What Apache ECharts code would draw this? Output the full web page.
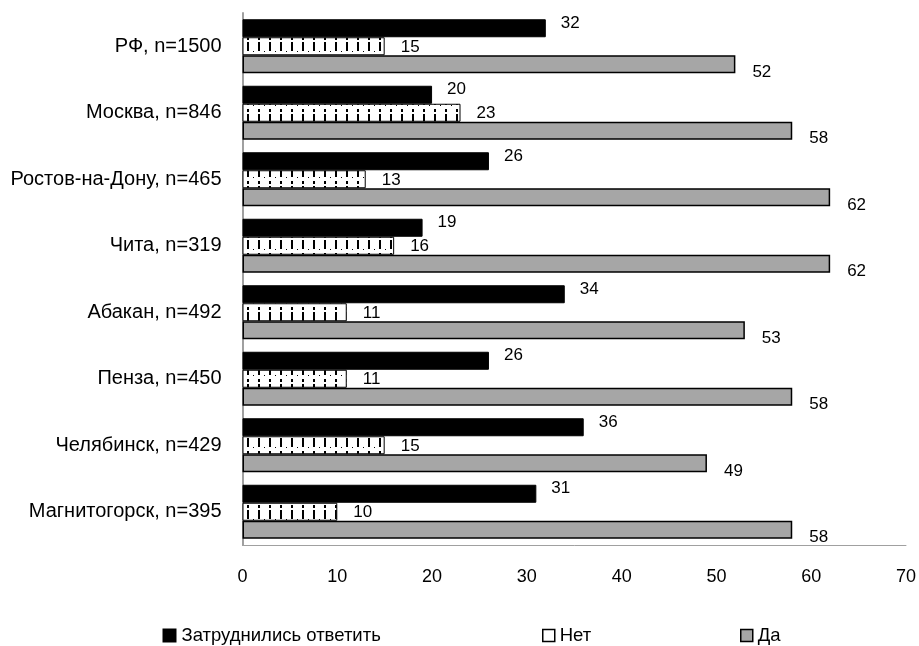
<!DOCTYPE html>
<html>
<head>
<meta charset="utf-8">
<script src="https://cdn.jsdelivr.net/npm/echarts@6/dist/echarts.min.js"></script>
<style>
html,body{margin:0;padding:0;background:#fff;}
#chart{width:919px;height:646px;}
</style>
</head>
<body>
<div id="chart"></div>
<script>
const categories = ['РФ, n=1500','Москва, n=846','Ростов-на-Дону, n=465','Чита, n=319','Абакан, n=492','Пенза, n=450','Челябинск, n=429','Магнитогорск, n=395'];
const seriesNames = ['Затруднились ответить','Нет','Да'];
const hardToSay = [32,20,26,19,34,26,36,31];
const noValues = [15,23,13,16,11,11,15,10];
const yesValues = [52,58,62,62,53,58,49,58];
const xTicks = [0,10,20,30,40,50,60,70];

const FONT = "'Liberation Sans', Arial, sans-serif";

// pattern for "Нет"
const pc = document.createElement('canvas');
pc.width = 11; pc.height = 18;
const px = pc.getContext('2d');
px.fillStyle = '#fff'; px.fillRect(0,0,11,18);
px.fillStyle = '#000';
px.fillRect(5,1,2,3);
px.fillRect(5,6,2,9);
px.fillRect(0,15,1,1);

const chart = echarts.init(document.getElementById('chart'), null, {renderer:'canvas'});
const labelBase = {show:true, position:'right', color:'#000', fontFamily:FONT, fontSize:17};
const legendText = {fontSize:18.5, fontFamily:FONT, color:'#000'};
const option = {
  animation:false,
  textStyle:{fontFamily:FONT},
  grid:{left:242.5, right:11.5, top:13, bottom:101, containLabel:false},
  xAxis:{type:'value', min:0, max:70, interval:10,
    axisLine:{show:true, lineStyle:{color:'#a0a0a0', width:1}},
    axisTick:{show:false}, splitLine:{show:false},
    axisLabel:{color:'#000', fontSize:18, fontFamily:FONT, margin:23,
      formatter:v=>xTicks.includes(v)?String(v):''}},
  yAxis:{type:'category', data:categories, inverse:true,
    axisLine:{show:true, lineStyle:{color:'#a0a0a0', width:2}},
    axisTick:{show:false},
    axisLabel:{color:'#000', fontSize:20, fontFamily:FONT, margin:21}},
  legend:[
    {data:[{name:seriesNames[0], itemStyle:{color:'#000', borderWidth:0}}], left:162.5, top:626, padding:0, icon:'rect', itemWidth:14, itemHeight:14, itemGap:4,
      textStyle:legendText},
    {data:[{name:seriesNames[1], itemStyle:{color:'#fff', borderColor:'#000', borderWidth:1.5}}], left:542, top:626, padding:0, icon:'rect', itemWidth:12, itemHeight:12, itemGap:4,
      textStyle:legendText},
    {data:[{name:seriesNames[2], itemStyle:{color:'#a6a6a6', borderColor:'#000', borderWidth:1.5}}], left:740, top:626, padding:0, icon:'rect', itemWidth:12, itemHeight:12, itemGap:4,
      textStyle:legendText}
  ],
  series:[
    {name:seriesNames[0], type:'bar', data:hardToSay, barWidth:18, barGap:'0%',
      itemStyle:{color:'#000', borderColor:'#000', borderWidth:1},
      label:Object.assign({}, labelBase, {distance:15, offset:[0,-5]})},
    {name:seriesNames[1], type:'bar', data:noValues, barWidth:18, barGap:'0%',
      itemStyle:{color:{image:pc, repeat:'repeat'}, borderColor:'#000', borderWidth:1},
      label:Object.assign({}, labelBase, {distance:16, offset:[0,1]})},
    {name:seriesNames[2], type:'bar', data:yesValues, barWidth:18, barGap:'0%',
      itemStyle:{color:'#a6a6a6', borderColor:'#000', borderWidth:1.5},
      label:Object.assign({}, labelBase, {distance:17, offset:[0,8]})}
  ]
};
chart.setOption(option);
</script>
</body>
</html>
